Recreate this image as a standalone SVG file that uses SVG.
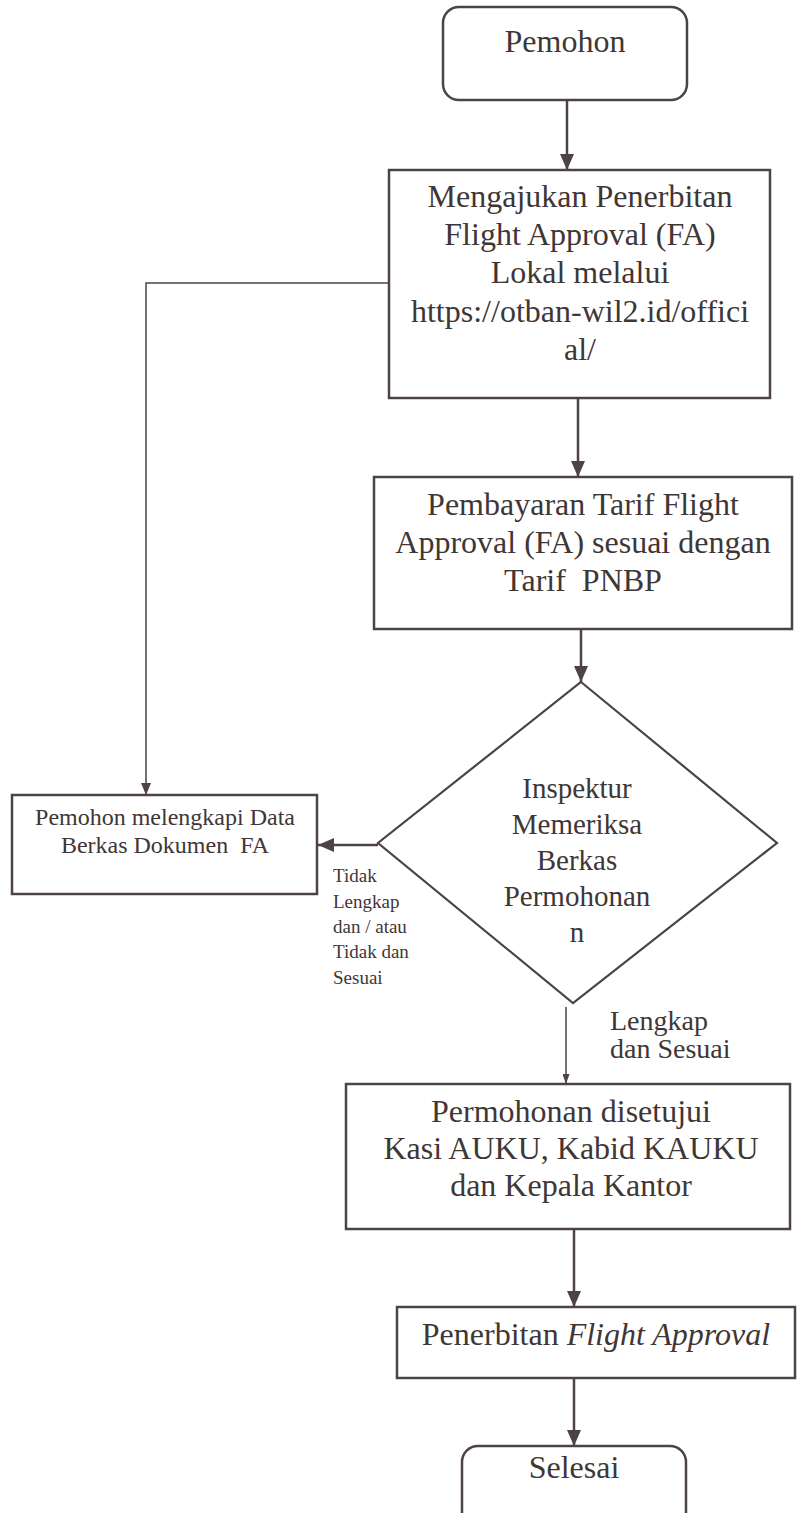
<svg xmlns="http://www.w3.org/2000/svg" width="797" height="1513" viewBox="0 0 797 1513">
<defs>
<style>
.box{fill:#fff;stroke:#4d4343;stroke-width:2.5}
.dia{fill:#fff;stroke:#4d4343;stroke-width:2.2}
.ln{fill:none;stroke:#4d4343;stroke-width:2.5}
.thin{fill:none;stroke:#4d4343;stroke-width:1.5}
.t{font-family:"Liberation Serif","Times New Roman",serif;fill:#3f3636;text-anchor:middle;white-space:pre}
.l{font-family:"Liberation Serif","Times New Roman",serif;fill:#3f3636}
</style>
<marker id="ah" markerUnits="userSpaceOnUse" markerWidth="16" markerHeight="14" refX="16" refY="7" orient="auto">
<path d="M0,0 L16,7 L0,14 z" fill="#4d4343"/>
</marker>
<marker id="ahs" markerUnits="userSpaceOnUse" markerWidth="12" markerHeight="10" refX="12" refY="5" orient="auto">
<path d="M0,0 L12,5 L0,10 z" fill="#4d4343"/>
</marker>
<marker id="aht" markerUnits="userSpaceOnUse" markerWidth="10" markerHeight="7" refX="10" refY="3.5" orient="auto">
<path d="M0,0 L10,3.5 L0,7 z" fill="#4d4343"/>
</marker>
</defs>
<rect width="797" height="1513" fill="#fff"/>

<g id="connectors">
<line class="ln" x1="567" y1="100" x2="567" y2="170" marker-end="url(#ah)"/>
<line class="ln" x1="578" y1="398" x2="578" y2="477" marker-end="url(#ah)"/>
<line class="ln" x1="581" y1="629" x2="581" y2="682" marker-end="url(#ah)"/>
<polyline class="thin" points="388,283 146,283 146,795" marker-end="url(#ahs)"/>
<line class="ln" x1="378" y1="845" x2="318" y2="845" stroke-width="3" marker-end="url(#ah)"/>
<line class="thin" x1="566" y1="1007" x2="566" y2="1084" marker-end="url(#aht)"/>
<line class="ln" x1="574" y1="1229" x2="574" y2="1307" marker-end="url(#ah)"/>
<line class="ln" x1="574" y1="1378" x2="574" y2="1446" marker-end="url(#ah)"/>
</g>

<g id="n-pemohon">
<rect class="box" x="443" y="7" width="244" height="93" rx="16"/>
<text class="t" x="565" y="52" font-size="32">Pemohon</text>
</g>

<g id="n-mengajukan">
<rect class="box" x="389" y="170" width="381" height="228"/>
<text class="t" x="580" y="207" font-size="32">Mengajukan Penerbitan</text>
<text class="t" x="580" y="245" font-size="32">Flight Approval (FA)</text>
<text class="t" x="580" y="283" font-size="32">Lokal melalui</text>
<text class="t" x="580" y="322" font-size="32">https://otban-wil2.id/offici</text>
<text class="t" x="580" y="360" font-size="32">al/</text>
</g>

<g id="n-pembayaran">
<rect class="box" x="374" y="477" width="418" height="152"/>
<text class="t" x="583" y="515" font-size="32">Pembayaran Tarif Flight</text>
<text class="t" x="583" y="553" font-size="32">Approval (FA) sesuai dengan</text>
<text class="t" x="583" y="591" font-size="32" xml:space="preserve">Tarif  PNBP</text>
</g>

<g id="n-inspektur">
<polygon class="dia" points="581,682 777,843 573,1003 378,843"/>
<text class="t" x="577" y="798" font-size="29">Inspektur</text>
<text class="t" x="577" y="834" font-size="29">Memeriksa</text>
<text class="t" x="577" y="870" font-size="29">Berkas</text>
<text class="t" x="577" y="906" font-size="29">Permohonan</text>
<text class="t" x="577" y="942" font-size="29">n</text>
</g>

<g id="n-melengkapi">
<rect class="box" x="12" y="795" width="305" height="99"/>
<text class="t" x="165" y="825" font-size="24">Pemohon melengkapi Data</text>
<text class="t" x="165" y="853" font-size="24" xml:space="preserve">Berkas Dokumen  FA</text>
</g>

<g id="labels">
<text class="l" x="333" y="882" font-size="19">Tidak</text>
<text class="l" x="333" y="908" font-size="19">Lengkap</text>
<text class="l" x="333" y="933" font-size="19">dan / atau</text>
<text class="l" x="333" y="958" font-size="19">Tidak dan</text>
<text class="l" x="333" y="984" font-size="19">Sesuai</text>
<text class="l" x="610" y="1030" font-size="28">Lengkap</text>
<text class="l" x="610" y="1058" font-size="28">dan Sesuai</text>
</g>

<g id="n-disetujui">
<rect class="box" x="346" y="1084" width="444" height="145"/>
<text class="t" x="571" y="1122" font-size="32">Permohonan disetujui</text>
<text class="t" x="571" y="1159" font-size="32">Kasi AUKU, Kabid KAUKU</text>
<text class="t" x="571" y="1196" font-size="32">dan Kepala Kantor</text>
</g>

<g id="n-penerbitan">
<rect class="box" x="397" y="1307" width="398" height="71"/>
<text class="t" x="596" y="1345" font-size="32">Penerbitan <tspan font-style="italic">Flight Approval</tspan></text>
</g>

<g id="n-selesai">
<rect class="box" x="462" y="1446" width="224" height="90" rx="16"/>
<text class="t" x="574" y="1478" font-size="32">Selesai</text>
</g>
</svg>
